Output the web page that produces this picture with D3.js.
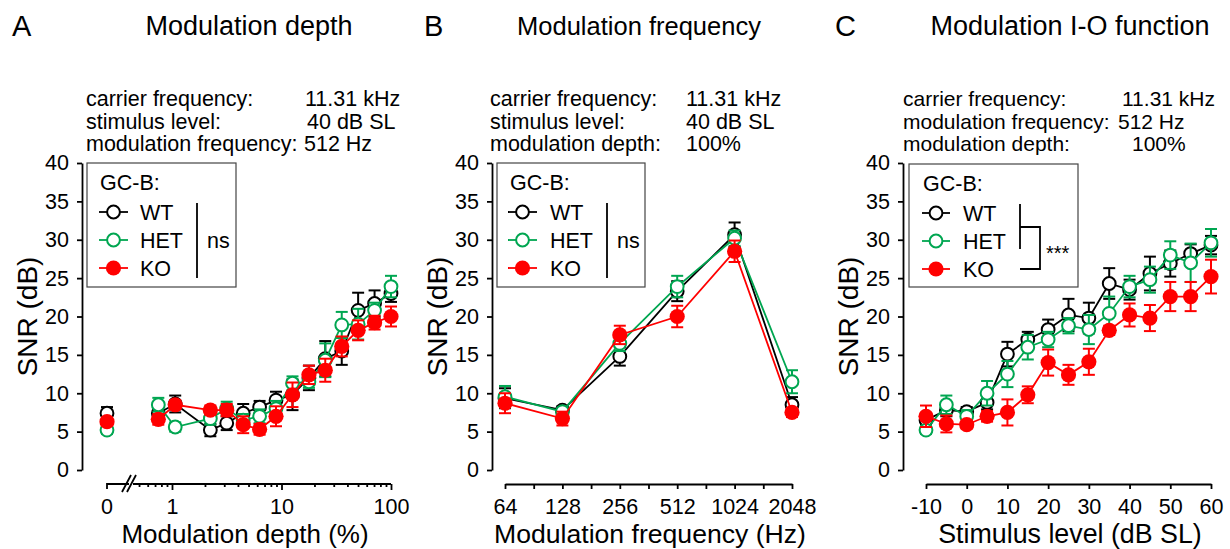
<!DOCTYPE html>
<html>
<head>
<meta charset="utf-8">
<script src="https://cdn.jsdelivr.net/npm/d3@7"></script>
<style>
  body { margin: 0; background: #fff; }
  svg { display: block; font-family: "Liberation Sans", Arial, sans-serif; }
</style>
</head>
<body>
<svg id="fig" width="1230" height="549"></svg>
<script>
// ---------- data ----------
const groups = ["WT", "HET", "KO"];
const groupColors = { WT: "#000000", HET: "#00a651", KO: "#ff0000" };

// A: modulation depth (%)
const depthPct = [0, 0.75, 1.07, 2.24, 3.16, 4.47, 6.31, 8.91, 12.6, 17.8, 25.1, 35.5, 50.1, 70.8, 100];
const depthWT     = [7.4, 7.4, 8.6, 5.2, 6.1, 7.4, 8.2, 9.1, 9.8, 12.0, 14.5, 15.5, 20.8, 21.7, 23.0];
const depthWTsem  = [0.8, 0.8, 1.1, 0.8, 0.9, 1.2, 0.8, 1.1, 2.0, 1.6, 2.3, 1.8, 2.3, 1.7, 1.1];
const depthHET    = [5.2, 8.5, 5.6, 6.7, 8.0, 6.5, 7.0, 8.0, 11.3, 11.5, 14.3, 18.9, 19.0, 20.8, 23.9];
const depthHETsem = [0.5, 0.9, 0.6, 0.8, 0.9, 0.8, 0.9, 1.0, 0.9, 0.8, 2.2, 1.7, 2.0, 1.0, 1.4];
const depthKO     = [6.3, 6.6, 8.5, 7.8, 7.8, 5.9, 5.3, 7.0, 9.8, 12.4, 13.0, 16.1, 18.2, 19.2, 20.0];
const depthKOsem  = [0.5, 0.7, 0.6, 0.6, 0.8, 1.1, 0.7, 1.3, 1.6, 1.2, 1.5, 1.3, 1.3, 0.9, 1.3];
const depthMajorTicks = [1, 10, 100];
const depthMinorTicks = [0.5, 0.6, 0.7, 0.8, 0.9, 2, 3, 4, 5, 6, 7, 8, 9, 20, 30, 40, 50, 60, 70, 80, 90];

// B: modulation frequency (Hz)
const freqHz = [64, 128, 256, 512, 1024, 2048];
const freqWT     = [9.35, 7.8, 14.8, 23.3, 30.65, 8.5];
const freqWTsem  = [1.3, 0.5, 1.2, 1.3, 1.6, 1.0];
const freqHET    = [9.55, 7.6, 16.5, 23.9, 30.2, 11.5];
const freqHETsem = [1.4, 0.5, 1.0, 1.4, 1.0, 1.5];
const freqKO     = [8.7, 6.7, 17.6, 20.0, 28.5, 7.5];
const freqKOsem  = [1.3, 0.9, 1.2, 1.4, 1.4, 0.6];
const freqTicks = [64, 90.5, 128, 181, 256, 362, 512, 724, 1024, 1448, 2048];
const freqTickLabels = [64, 128, 256, 512, 1024, 2048];

// C: stimulus level (dB SL)
const levelDb = [-10, -5, 0, 5, 10, 15, 20, 25, 30, 35, 40, 45, 50, 55, 60];
const levelWT     = [6.5, 7.8, 7.6, 8.8, 15.1, 17.0, 18.3, 20.2, 19.8, 24.3, 23.5, 25.6, 26.9, 28.2, 29.3];
const levelWTsem  = [0.5, 0.8, 0.6, 0.9, 1.6, 1.0, 1.3, 2.1, 2.0, 2.0, 1.3, 2.2, 1.7, 1.2, 1.2];
const levelHET    = [5.2, 8.5, 7.0, 10.0, 12.5, 16.0, 17.0, 18.8, 18.3, 20.4, 23.9, 24.8, 28.0, 27.0, 29.6];
const levelHETsem = [0.5, 1.2, 0.8, 1.6, 1.7, 1.6, 1.0, 1.0, 1.9, 2.2, 1.4, 1.7, 1.8, 2.5, 1.8];
const levelKO     = [7.0, 6.0, 5.9, 7.0, 7.5, 9.8, 14.0, 12.4, 14.1, 18.2, 20.2, 19.8, 22.6, 22.6, 25.2];
const levelKOsem  = [1.4, 1.1, 0.5, 0.7, 1.7, 1.1, 1.7, 1.3, 1.7, 0.6, 1.5, 1.7, 1.9, 1.9, 2.2];
const levelTicks = [-10, 0, 10, 20, 30, 40, 50, 60];

const snrTicks = [0, 5, 10, 15, 20, 25, 30, 35, 40];

// ---------- layout ----------
const svg = d3.select("#fig");
const FONT_SMALL = 21.5;
const Y_TOP = 163, Y_BOTTOM = 470, X_AXIS_Y = 484;
const X_TICK_OFFSET = 15;      // tick length + padding below the x axis
const X_LABEL_Y = 543.3;
const y = d3.scaleLinear().domain([0, 40]).range([Y_BOTTOM, Y_TOP]);
// plain hyphen for negative numbers
const intFormat = d => String(d);

function styleAxis(sel) {
  sel.selectAll("path, line").attr("stroke", "#000").attr("stroke-width", 1.8);
  sel.selectAll("text").attr("font-size", FONT_SMALL).attr("fill", "#000")
     .attr("font-family", "Liberation Sans, Arial, sans-serif");
}

function drawYAxis(g, x0) {
  const ax = g.append("g").attr("transform", `translate(${x0},0)`)
    .call(d3.axisLeft(y).tickValues(snrTicks).tickSize(5).tickSizeOuter(0).tickPadding(8).tickFormat(intFormat));
  styleAxis(ax);
  g.append("text")
    .attr("transform", `translate(${x0 - 45},${(Y_TOP + Y_BOTTOM) / 2}) rotate(-90)`)
    .attr("text-anchor", "middle").attr("font-size", 28).text("SNR (dB)");
}

function drawSeries(g, xs, pos, ys, es, name, splitFirst) {
  const col = groupColors[name];
  const pts = xs.map((v, i) => ({ x: pos(v), y: y(ys[i]), lo: y(ys[i] - es[i]), hi: y(ys[i] + es[i]) }));
  const linePts = splitFirst ? pts.slice(1) : pts;
  g.append("path")
    .attr("d", d3.line().x(d => d.x).y(d => d.y)(linePts))
    .attr("fill", "none").attr("stroke", col).attr("stroke-width", 1.8);
  const eb = g.append("g").attr("stroke", col).attr("stroke-width", 2);
  pts.forEach(p => {
    eb.append("line").attr("x1", p.x).attr("x2", p.x).attr("y1", p.lo).attr("y2", p.hi);
    eb.append("line").attr("x1", p.x - 6).attr("x2", p.x + 6).attr("y1", p.hi).attr("y2", p.hi);
    eb.append("line").attr("x1", p.x - 6).attr("x2", p.x + 6).attr("y1", p.lo).attr("y2", p.lo);
  });
  drawMarkers(g, pts, name);
}

function drawMarkers(g, pts, name) {
  const col = groupColors[name];
  const filled = name === "KO";
  g.append("g").selectAll("circle").data(pts).join("circle")
    .attr("cx", d => d.x).attr("cy", d => d.y)
    .attr("r", filled ? 7.6 : 6.4)
    .attr("fill", filled ? col : "#fff")
    .attr("stroke", col).attr("stroke-width", filled ? 0 : 2);
}

function drawLegend(g, L) {
  g.append("rect").attr("x", L.x).attr("y", L.y).attr("width", L.w).attr("height", L.h)
    .attr("fill", "#fff").attr("stroke", "#444").attr("stroke-width", 1.2);
  g.append("text").attr("x", L.titleX).attr("y", L.y + 27).attr("font-size", FONT_SMALL).text("GC-B:");
  const rows = [L.y + 49, L.y + 77, L.y + 105];
  groups.forEach((name, i) => {
    const cy = rows[i];
    g.append("line").attr("x1", L.s0).attr("x2", L.s1).attr("y1", cy).attr("y2", cy)
      .attr("stroke", groupColors[name]).attr("stroke-width", 1.8);
    drawMarkers(g, [{ x: (L.s0 + L.s1) / 2, y: cy }], name);
    g.append("text").attr("x", L.tx).attr("y", cy + 7.5).attr("font-size", FONT_SMALL).text(name);
  });
  if (L.sig === "ns") {
    g.append("line").attr("x1", L.bx).attr("x2", L.bx).attr("y1", rows[0] - 9).attr("y2", rows[2] + 10)
      .attr("stroke", "#000").attr("stroke-width", 1.8);
    g.append("text").attr("x", L.bx + 10).attr("y", rows[1] + 7.5).attr("font-size", FONT_SMALL).text("ns");
  } else {
    const xa = L.bx, xb = L.bx + 20, mid = (rows[0] + rows[1]) / 2;
    g.append("path")
      .attr("d", `M${xa},${rows[0] - 9}V${rows[1] + 8}M${xa},${mid}H${xb}V${rows[2]}H${xa}`)
      .attr("fill", "none").attr("stroke", "#000").attr("stroke-width", 1.8);
    g.append("text").attr("x", xb + 6).attr("y", mid + 33).attr("font-size", 20).text("***");
  }
}

function drawHeader(g, h) {
  g.append("text").attr("x", h.letterX).attr("y", 36).attr("font-size", 29).text(h.letter);
  g.append("text").attr("x", h.titleX).attr("y", 35).attr("font-size", h.titleSize)
    .attr("text-anchor", "middle").text(h.title);
  h.lines.forEach((ln, i) => {
    g.append("text").attr("x", h.labelX).attr("y", 106 + i * 22.5).attr("font-size", h.infoSize).text(ln[0]);
    g.append("text").attr("x", h.valueXs[i]).attr("y", 106 + i * 22.5).attr("font-size", h.infoSize).text(ln[1]);
  });
}

function xLabel(g, text, cx, size) {
  g.append("text").attr("x", cx).attr("y", X_LABEL_Y).attr("text-anchor", "middle").attr("font-size", size).text(text);
}

// ---------- panel A ----------
{
  const g = svg.append("g");
  drawHeader(g, { letter: "A", letterX: 12, title: "Modulation depth", titleX: 249, titleSize: 27,
    lines: [["carrier frequency:", "11.31 kHz"], ["stimulus level:", "40 dB SL"], ["modulation frequency:", "512 Hz"]],
    labelX: 86, valueXs: [305, 307, 304], infoSize: 21.5 });
  drawYAxis(g, 82);

  const xLog = d3.scaleLog().domain([1, 100]).range([172, 391]);
  const xZero = 107;
  const pos = v => v === 0 ? xZero : xLog(v);

  // broken x axis: isolated "0" section, break marks, then log section
  const ax = g.append("g");
  ax.append("path").attr("d", `M${xZero},${X_AXIS_Y + 5}V${X_AXIS_Y}H129M133,${X_AXIS_Y}H${xLog(100)}`)
    .attr("fill", "none");
  ax.append("path").attr("d", `M122,${X_AXIS_Y + 8}L131,${X_AXIS_Y - 9}M127,${X_AXIS_Y + 8}L136,${X_AXIS_Y - 9}`)
    .attr("fill", "none");
  ax.append("text").attr("x", xZero).attr("y", X_AXIS_Y + X_TICK_OFFSET).attr("dy", "0.71em")
    .attr("text-anchor", "middle").text("0");
  const major = ax.append("g").attr("transform", `translate(0,${X_AXIS_Y})`)
    .call(d3.axisBottom(xLog).tickValues(depthMajorTicks).tickFormat(intFormat).tickSize(6).tickPadding(X_TICK_OFFSET - 6));
  major.select(".domain").remove();
  const minor = ax.append("g").attr("transform", `translate(0,${X_AXIS_Y})`)
    .call(d3.axisBottom(xLog).tickValues(depthMinorTicks).tickFormat("").tickSize(3));
  minor.select(".domain").remove();
  styleAxis(ax);

  xLabel(g, "Modulation depth (%)", 245, 26);

  drawSeries(g, depthPct, pos, depthWT, depthWTsem, "WT", true);
  drawSeries(g, depthPct, pos, depthHET, depthHETsem, "HET", true);
  drawSeries(g, depthPct, pos, depthKO, depthKOsem, "KO", true);

  drawLegend(g, { x: 87, y: 163, w: 149, h: 124, titleX: 100, s0: 99, s1: 128, tx: 140, bx: 197, sig: "ns" });
}

// ---------- panel B ----------
{
  const g = svg.append("g");
  drawHeader(g, { letter: "B", letterX: 424, title: "Modulation frequency", titleX: 639, titleSize: 25.5,
    lines: [["carrier frequency:", "11.31 kHz"], ["stimulus level:", "40 dB SL"], ["modulation depth:", "100%"]],
    labelX: 490, valueXs: [686, 686, 686], infoSize: 21.5 });
  drawYAxis(g, 492);

  const xB = d3.scaleLog().base(2).domain([64, 2048]).range([505, 792]);
  const ax = g.append("g").attr("transform", `translate(0,${X_AXIS_Y})`)
    .call(d3.axisBottom(xB).tickValues(freqTicks).tickSize(5).tickSizeOuter(0).tickPadding(X_TICK_OFFSET - 5)
      .tickFormat(d => freqTickLabels.includes(d) ? String(d) : ""));
  styleAxis(ax);

  xLabel(g, "Modulation frequency (Hz)", 650, 26.6);

  drawSeries(g, freqHz, xB, freqWT, freqWTsem, "WT", false);
  drawSeries(g, freqHz, xB, freqHET, freqHETsem, "HET", false);
  drawSeries(g, freqHz, xB, freqKO, freqKOsem, "KO", false);

  drawLegend(g, { x: 497, y: 163, w: 148, h: 124, titleX: 510, s0: 508, s1: 537, tx: 550, bx: 607, sig: "ns" });
}

// ---------- panel C ----------
{
  const g = svg.append("g");
  drawHeader(g, { letter: "C", letterX: 835, title: "Modulation I-O function", titleX: 1070, titleSize: 27,
    lines: [["carrier frequency:", "11.31 kHz"], ["modulation frequency:", "512 Hz"], ["modulation depth:", "100%"]],
    labelX: 903, valueXs: [1122, 1118, 1132], infoSize: 21 });
  drawYAxis(g, 903);

  const xC = d3.scaleLinear().domain([-10, 60]).range([926, 1211]);
  const ax = g.append("g").attr("transform", `translate(0,${X_AXIS_Y})`)
    .call(d3.axisBottom(xC).tickValues(levelTicks).tickSize(5).tickSizeOuter(0).tickPadding(X_TICK_OFFSET - 5)
      .tickFormat(intFormat));
  styleAxis(ax);

  xLabel(g, "Stimulus level (dB SL)", 1070, 26.8);

  drawSeries(g, levelDb, xC, levelWT, levelWTsem, "WT", false);
  drawSeries(g, levelDb, xC, levelHET, levelHETsem, "HET", false);
  drawSeries(g, levelDb, xC, levelKO, levelKOsem, "KO", false);

  drawLegend(g, { x: 909, y: 164, w: 169, h: 123, titleX: 923, s0: 922, s1: 950, tx: 963, bx: 1020, sig: "***" });
}
</script>
</body>
</html>
